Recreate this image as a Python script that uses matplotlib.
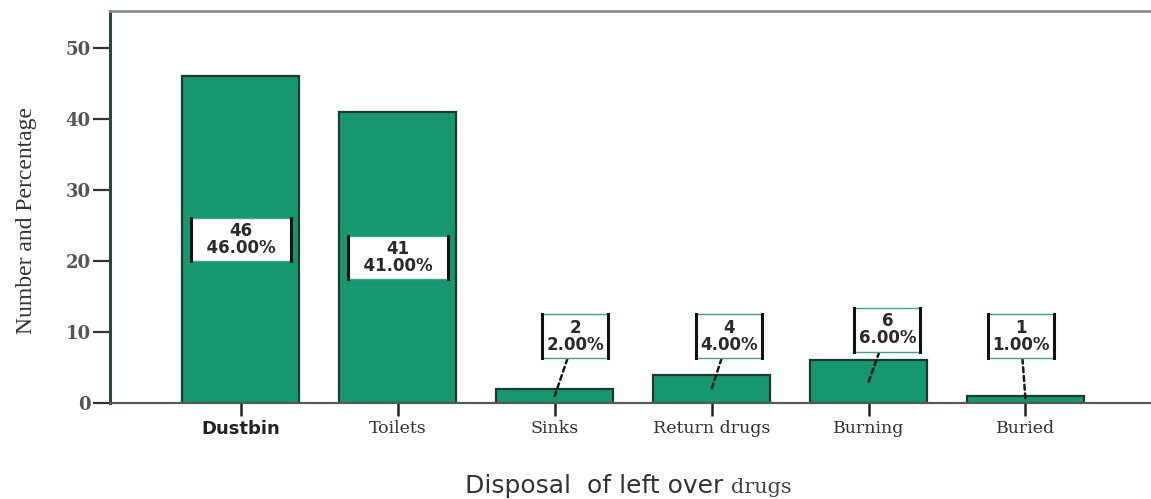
import matplotlib
matplotlib.use("Agg")
import matplotlib.pyplot as plt
from matplotlib.lines import Line2D

# Disposal methods and respondent counts
categories = ["Dustbin", "Toilets", "Sinks", "Return drugs", "Burning", "Buried"]
counts = [46, 41, 2, 4, 6, 1]
percentages = [46.00, 41.00, 2.00, 4.00, 6.00, 1.00]
yticks = [0, 10, 20, 30, 40, 50]

# label placement for the short bars: (x offset, label height)
callout_pos = {2: (0.13, 9.4), 3: (0.11, 9.4), 4: (0.12, 10.3), 5: (-0.03, 9.4)}

bar_color = "#17976f"
edge_color = "#1d3a31"
box_rim = "#3aa58c"

fig = plt.figure(figsize=(11.51, 4.99), dpi=100)
ax = fig.add_axes([0.0956, 0.1924, 0.9044, 0.7856])

x = list(range(len(categories)))
ax.bar(x, counts, width=0.745, color=bar_color, edgecolor=edge_color,
       linewidth=1.6, zorder=2)

ax.set_xlim(-0.834, 5.8)
ax.set_ylim(0, 55.2)

box = dict(boxstyle="square,pad=0.25", facecolor="white",
           edgecolor=box_rim, linewidth=1.0)
labels = []
for i, (c, p) in enumerate(zip(counts, percentages)):
    if i in callout_pos:
        text = f"{c}\n{p:.2f}%"
        dx, ly = callout_pos[i]
        t = ax.annotate(text, xy=(i, c / 2), xytext=(i + dx, ly),
                        ha="center", va="center", fontsize=12,
                        fontweight="bold", color="#2a2a2a", linespacing=0.95,
                        bbox=box,
                        arrowprops=dict(arrowstyle="-", linestyle=(0, (2, 1.5)),
                                        color="#1a1a1a", lw=1.8,
                                        shrinkA=0, shrinkB=0),
                        zorder=4)
    else:
        text = f"{c}\n  {p:.2f}%  "
        t = ax.text(i, c / 2, text, ha="center", va="center", fontsize=12,
                    fontweight="bold", color="#2a2a2a", linespacing=0.95,
                    bbox=box, zorder=4)
    labels.append(t)

# axes frame
ax.spines["right"].set_visible(False)
ax.spines["left"].set_color("#1f4d3c")
ax.spines["left"].set_linewidth(2.2)
ax.spines["top"].set_color("#8a8f8d")
ax.spines["top"].set_linewidth(2.0)
ax.spines["bottom"].set_color("#555a58")
ax.spines["bottom"].set_linewidth(1.6)

ax.set_yticks(yticks)
ax.set_yticklabels([str(t) for t in yticks], fontsize=13, fontweight="bold",
                   color="#555555", family="DejaVu Serif")
ax.tick_params(axis="y", length=12, width=1.6, color="#333333", pad=2)

ax.set_xticks(x)
ax.set_xticklabels(categories)
ax.tick_params(axis="x", length=9, width=1.8, color="#222222", pad=3)
for i, lab in enumerate(ax.get_xticklabels()):
    if i == 0:
        lab.set_fontfamily("DejaVu Sans")
        lab.set_fontweight("bold")
        lab.set_fontsize(13)
        lab.set_color("#222222")
    else:
        lab.set_fontfamily("DejaVu Serif")
        lab.set_fontsize(12.5)
        lab.set_color("#333333")

ax.set_ylabel("Number and Percentage", family="Liberation Serif",
              fontsize=17, color="#333333")
ax.yaxis.set_label_coords(-0.07, 0.465)

# x-axis title: sans words followed by a serif word
fig.canvas.draw()
renderer = fig.canvas.get_renderer()
t1 = fig.text(0.0, 0.012, "Disposal  of left over ", family="DejaVu Sans",
              fontsize=18, color="#333333", ha="left", va="baseline")
t2 = fig.text(0.0, 0.012, "drugs", family="DejaVu Serif",
              fontsize=15, color="#444444", ha="left", va="baseline")
w1 = t1.get_window_extent(renderer).width / fig.bbox.width
w2 = t2.get_window_extent(renderer).width / fig.bbox.width
start = 0.546 - (w1 + w2) / 2
t1.set_x(start)
t2.set_x(start + w1)

# heavy dark sides on each label box
for t in labels:
    bb = t.get_bbox_patch().get_window_extent(renderer)
    for xs in (bb.x0, bb.x1):
        fig.add_artist(Line2D([xs, xs], [bb.y0, bb.y1], transform=None,
                              color="#111111", lw=2.2, zorder=5))

fig.savefig("out.png", dpi=100)
